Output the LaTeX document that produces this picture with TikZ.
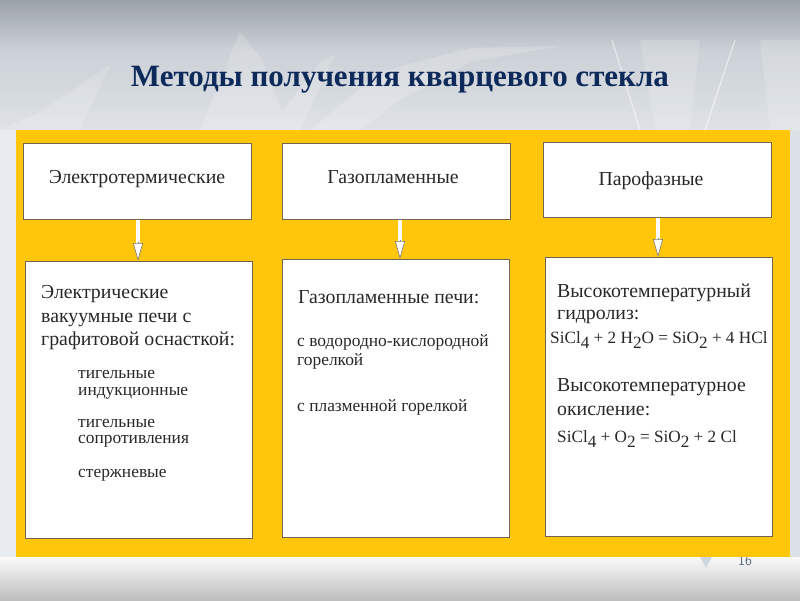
\documentclass[tikz,border=0pt]{standalone}
\usepackage{fontspec}
\setmainfont{Liberation Serif}
\usetikzlibrary{arrows.meta,calc}
\definecolor{panel}{RGB}{255,198,12}
\definecolor{boxline}{RGB}{110,100,80}
\definecolor{titlec}{RGB}{14,42,90}
\definecolor{txt}{RGB}{40,40,40}
\definecolor{arrowc}{RGB}{120,120,120}
\newcommand{\lo}[1]{\raisebox{-0.32em}{#1}}
\begin{document}
\begin{tikzpicture}[x=1pt,y=-1pt,
  box/.style={draw=boxline, line width=0.8pt, fill=white, inner sep=0pt, anchor=north west},
  lbl/.style={text=txt, inner sep=0pt, anchor=base west},
  toplbl/.style={text=txt, inner sep=0pt, anchor=base, font=\fontsize{19.8}{22}\selectfont},
  mainf/.style={lbl, font=\fontsize{19.8}{22}\selectfont},
  formf/.style={lbl, font=\fontsize{17.2}{20}\selectfont},
  subf/.style={lbl, font=\fontsize{17.4}{19}\selectfont},
  shaft/.style={draw=arrowc, line width=0.6pt, double=white, double distance=3.6pt},
  head/.style={-{Triangle[length=18pt,width=10pt,fill=white]}, draw=arrowc, line width=0.6pt}
]
\useasboundingbox (0,0) rectangle (800,600);
% background
\fill[color={rgb,255:red,220;green,225;blue,231}] (0,0) rectangle (800,600);
\shade[top color={rgb,255:red,156;green,162;blue,170}, bottom color={rgb,255:red,204;green,209;blue,215}] (0,0) rectangle (800,50);
\shade[top color={rgb,255:red,204;green,209;blue,215}, bottom color={rgb,255:red,222;green,226;blue,231}] (0,50) rectangle (800,130);
% faint crystal shapes
\fill[white, opacity=0.18] (200,130) -- (240,32) -- (262,60) -- (282,112) -- (320,62) -- (335,55) -- (300,130) -- cycle;
\fill[white, opacity=0.15] (0,130) -- (40,112) -- (110,65) -- (80,130) -- cycle;
\fill[white, opacity=0.18] (310,130) -- (380,72) -- (470,48) -- (560,46) -- (470,62) -- (400,100) -- (360,130) -- cycle;
\draw[white, opacity=0.45, line width=1.5pt] (612,40) -- (640,130);
\draw[white, opacity=0.45, line width=1.5pt] (735,40) -- (705,130);
\fill[white, opacity=0.15] (640,40) -- (700,40) -- (690,130) -- (655,130) -- cycle;
\fill[white, opacity=0.15] (760,40) -- (800,40) -- (800,130) -- (770,130) -- cycle;
\fill[white, opacity=0.35] (0,130) rectangle (16,557);
% bottom band
\shade[top color={rgb,255:red,250;green,250;blue,250}, bottom color={rgb,255:red,190;green,190;blue,190}] (0,557) rectangle (800,600);
\fill[color={rgb,255:red,205;green,214;blue,225}] (700,557) -- (712,557) -- (706,568) -- cycle;
% page number
\node[text={rgb,255:red,90;green,105;blue,130}, font=\fontsize{14}{14}\selectfont\sffamily, inner sep=0pt] (pg) at (745,561) {16};
% yellow panel
\fill[panel] (16,130) rectangle (790,557);
% title
\node[text=titlec, font=\fontsize{31}{34}\selectfont\bfseries, inner sep=0pt, anchor=base] (title) at (400,86) {Методы получения кварцевого стекла};
% top boxes
\node[box, minimum width=228pt, minimum height=76pt] (t1) at (22.5,143) {};
\node[box, minimum width=228pt, minimum height=76pt] (t2) at (282,143) {};
\node[box, minimum width=228pt, minimum height=75pt] (t3) at (542.5,142) {};
\node[toplbl] (t1l) at (137,183) {Электротермические};
\node[toplbl] (t2l) at (393,183) {Газопламенные};
\node[toplbl] (t3l) at (651,185) {Парофазные};
% bottom boxes
\node[box, minimum width=227pt, minimum height=277pt] (b1) at (25,261) {};
\node[box, minimum width=227pt, minimum height=278pt] (b2) at (282,259) {};
\node[box, minimum width=227pt, minimum height=279pt] (b3) at (545,257) {};
% arrows
\coordinate (x1) at (138,0);
\coordinate (x2) at (400,0);
\coordinate (x3) at (658,0);
\draw[shaft] (t1.south -| x1) -- ($(b1.north -| x1)+(0,-17)$);
\draw[head] ($(b1.north -| x1)+(0,-19)$) -- (b1.north -| x1);
\draw[shaft] (t2.south -| x2) -- ($(b2.north -| x2)+(0,-17)$);
\draw[head] ($(b2.north -| x2)+(0,-19)$) -- (b2.north -| x2);
\draw[shaft] (t3.south -| x3) -- ($(b3.north -| x3)+(0,-17)$);
\draw[head] ($(b3.north -| x3)+(0,-19)$) -- (b3.north -| x3);
% box 1 text
\node[mainf] (m11) at (41,298) {Электрические};
\node[mainf] (m12) at (41,322) {вакуумные печи с};
\node[mainf] (m13) at (41,345) {графитовой оснасткой:};
\node[subf] (s11) at (78,378) {тигельные};
\node[subf] (s12) at (78,395) {индукционные};
\node[subf] (s13) at (78,427) {тигельные};
\node[subf] (s14) at (78,443) {сопротивления};
\node[subf] (s15) at (78,477) {стержневые};
% box 2 text
\node[mainf] (m21) at (298,303) {Газопламенные печи:};
\node[subf] (s21) at (297,346) {с водородно-кислородной};
\node[subf] (s22) at (297,365) {горелкой};
\node[subf] (s23) at (297,411) {с плазменной горелкой};
% box 3 text
\node[mainf] (m31) at (557,297) {Высокотемпературный};
\node[mainf] (m32) at (557,319) {гидролиз:};
\node[formf] (f1) at (550,343) {SiCl\lo{4} + 2 H\lo{2}O = SiO\lo{2} + 4 HCl};
\node[mainf] (m33) at (557,391) {Высокотемпературное};
\node[mainf] (m34) at (557,415) {окисление:};
\node[formf] (f2) at (557,442) {SiCl\lo{4} + O\lo{2} = SiO\lo{2} + 2 Cl};
\end{tikzpicture}
\end{document}
